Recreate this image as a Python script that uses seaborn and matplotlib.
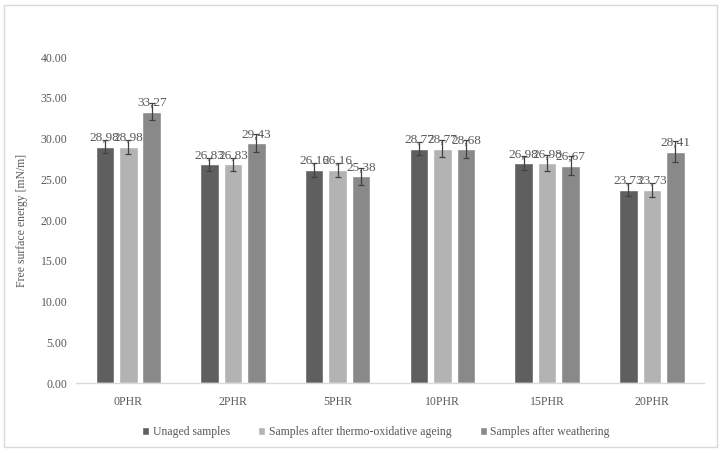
import pandas as pd
import numpy as np
import matplotlib
matplotlib.use('Agg')
import matplotlib.pyplot as plt
import matplotlib.ticker as ticker
from matplotlib.patches import Rectangle
import seaborn as sns

# ── Data ──────────────────────────────────────────────────────────────────────
categories = ['0PHR', '2PHR', '5PHR', '10PHR', '15PHR', '20PHR']
series = ['Unaged samples', 'Samples after thermo-oxidative ageing',
          'Samples after weathering']
unaged = [28.98, 26.83, 26.16, 28.77, 26.98, 23.73]
thermo = [28.98, 26.83, 26.16, 28.77, 26.98, 23.73]
weather = [33.27, 29.43, 25.38, 28.68, 26.67, 28.41]
err_unaged = [0.8, 0.8, 0.85, 0.8, 0.85, 0.8]
err_thermo = [0.85, 0.8, 0.9, 1.0, 0.95, 0.85]
err_weather = [1.05, 1.1, 1.05, 1.1, 1.15, 1.25]

colors = ['#5f5f5f', '#b3b3b3', '#898989']
text_grey = '#595959'

df = pd.DataFrame({
    'cat': categories * 3,
    'series': np.repeat(series, len(categories)),
    'value': unaged + thermo + weather,
    'err': err_unaged + err_thermo + err_weather,
})

# ── Style ─────────────────────────────────────────────────────────────────────
sns.set_theme(style='white')
plt.rcParams['font.family'] = ['Liberation Serif', 'DejaVu Serif']

fig = plt.figure(figsize=(7.23, 4.53), dpi=100)
ax = fig.add_axes([0.105, 0.1545, 0.869, 0.7195])

sns.barplot(data=df, x='cat', y='value', hue='series', order=categories,
            hue_order=series, palette=colors, width=0.673, gap=0.21,
            errorbar=None, saturation=1, ax=ax, legend=True)

# error bars and value labels per series
for container, s in zip(ax.containers, series):
    sub = df[df['series'] == s].set_index('cat').loc[categories]
    xs = [p.get_x() + p.get_width() / 2 for p in container]
    ax.errorbar(xs, sub['value'], yerr=sub['err'], fmt='none',
                ecolor='#404040', elinewidth=0.9, capsize=2.5, capthick=0.9,
                zorder=3)
    ax.bar_label(container, labels=[f'{v:.2f}'.replace('.', ',') for v in sub['value']],
                 padding=2, fontsize=9.5, color=text_grey, zorder=4)

ax.set_ylim(0, 40)
ax.set_xlim(-0.5, len(categories) - 0.5)
ax.yaxis.set_major_locator(ticker.MultipleLocator(5))
ax.yaxis.set_major_formatter(ticker.FuncFormatter(lambda v, _: f'{v:.2f}'))
ax.tick_params(axis='both', length=0, labelsize=8.5, colors=text_grey, pad=6)
ax.tick_params(axis='x', pad=9)
ax.set_xlabel('')
ax.set_ylabel('Free surface energy [mN/m]', fontsize=8.5, color=text_grey,
              labelpad=9)
for side in ['top', 'right', 'left']:
    ax.spines[side].set_visible(False)
ax.spines['bottom'].set_color('#d9d9d9')
ax.spines['bottom'].set_linewidth(1)

handles, labels = ax.get_legend_handles_labels()
ax.legend_.remove()
fig.legend(handles, labels, loc='center', bbox_to_anchor=(0.52, 0.046),
           ncol=3, frameon=False, fontsize=8.5, handlelength=0.6,
           handleheight=0.6, handletextpad=0.3, columnspacing=2.4,
           labelcolor=text_grey)

# outer chart border
fig.patches.append(Rectangle((4 / 723, 6 / 453), 713 / 723, 442 / 453,
                             transform=fig.transFigure, fill=False,
                             edgecolor='#d9d9d9', linewidth=1))

plt.savefig('out.png', dpi=100, facecolor='white')
